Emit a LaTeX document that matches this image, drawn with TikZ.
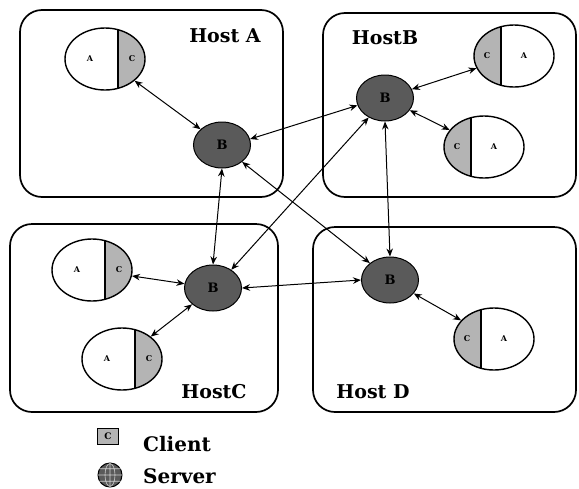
\documentclass[tikz,border=0pt]{standalone}
\usepackage{fontspec}
\newfontfamily\hostfont{DejaVu Serif}
\usetikzlibrary{shapes.geometric,arrows.meta}
\definecolor{srvgray}{HTML}{5A5A5A}
\definecolor{cgray}{HTML}{B4B4B4}
\tikzset{
  hostbox/.style={draw,line width=1.7pt,rounded corners=22pt},
  hostlabel/.style={font=\hostfont\bfseries\fontsize{19}{19}\selectfont,inner sep=0pt},
  legendlabel/.style={font=\hostfont\bfseries\fontsize{20}{20}\selectfont,inner sep=0pt,anchor=west},
  server/.style={ellipse,draw,line width=1pt,fill=srvgray,minimum width=57pt,minimum height=46pt,inner sep=0pt,font=\hostfont\bfseries\fontsize{13}{13}\selectfont},
  clientshape/.style={ellipse,draw,line width=1.4pt,minimum width=80pt,minimum height=62pt,inner sep=0pt},
  clabel/.style={font=\hostfont\bfseries\fontsize{8}{8}\selectfont,inner sep=0pt},
  link/.style={line width=1pt,{Stealth[length=8pt,width=6.5pt]}-{Stealth[length=8pt,width=6.5pt]}}
}
% client with C part on the right
\newcommand\clientCR[3]{%
  \begin{scope}
    \clip (#2,#3) ellipse [x radius=40, y radius=31];
    \fill[cgray] (#2+13,#3-32) rectangle (#2+41,#3+32);
    \draw[line width=1.4pt] (#2+13,#3-32) -- (#2+13,#3+32);
  \end{scope}
  \node[clientshape] (#1) at (#2,#3) {};
  \node[clabel] (#1a) at (#2-15,#3) {A};
  \node[clabel] (#1c) at (#2+27,#3) {C};
}
% client with C part on the left
\newcommand\clientCL[3]{%
  \begin{scope}
    \clip (#2,#3) ellipse [x radius=40, y radius=31];
    \fill[cgray] (#2-41,#3-32) rectangle (#2-13,#3+32);
    \draw[line width=1.4pt] (#2-13,#3-32) -- (#2-13,#3+32);
  \end{scope}
  \node[clientshape] (#1) at (#2,#3) {};
  \node[clabel] (#1c) at (#2-27,#3) {C};
  \node[clabel] (#1a) at (#2+10,#3) {A};
}
\begin{document}
\begin{tikzpicture}[x=1pt,y=-1pt]
\useasboundingbox (0,0) rectangle (579,488);
% host boxes
\draw[hostbox] (20,10) rectangle (283,197);
\draw[hostbox] (323,13) rectangle (576,197);
\draw[hostbox] (10,224) rectangle (278,412);
\draw[hostbox] (313,227) rectangle (576,412);
\node[hostlabel] (la) at (225,36) {Host A};
\node[hostlabel] (lb) at (385,38) {HostB};
\node[hostlabel] (lc) at (214,392) {HostC};
\node[hostlabel] (ld) at (373,392) {Host D};
% servers
\node[server] (sa) at (222,145) {B};
\node[server] (sb) at (385,98) {B};
\node[server] (sc) at (213,288) {B};
\node[server] (sd) at (390,280) {B};
% clients
\clientCR{ca}{105}{59}
\clientCL{cb1}{514}{56}
\clientCL{cb2}{484}{147}
\clientCR{cc1}{92}{270}
\clientCR{cc2}{122}{359}
\clientCL{cd}{494}{339}
% links
\draw[link] (ca) -- (sa);
\draw[link] (sa.12) -- (sb.195);
\draw[link] (sa.south) -- (sc.north);
\draw[link] (sa.-40) -- (sd.140);
\draw[link] (sb.230) -- (sc.45);
\draw[link] (sb.south) -- (sd.north);
\draw[link] (sc.east) -- (sd.west);
\draw[link] (sb) -- (cb1);
\draw[link] (sb) -- (cb2);
\draw[link] (sc) -- (cc1);
\draw[link] (sc) -- (cc2);
\draw[link] (sd) -- (cd);
% legend
\node[draw,line width=1pt,fill=cgray,minimum width=21pt,minimum height=16pt,inner sep=0pt,font=\hostfont\bfseries\fontsize{9}{9}\selectfont] (legc) at (108,436) {C};
\node[legendlabel] (legct) at (143,444) {Client};
\node[circle,draw,line width=1pt,fill=srvgray,minimum size=24pt,inner sep=0pt] (legs) at (110,475) {};
\draw[gray!40,line width=0.6pt] (legs.west) -- (legs.east) (legs.north) -- (legs.south)
  (legs.center) ellipse [x radius=5, y radius=11.5]
  (legs.150) -- (legs.30) (legs.210) -- (legs.-30);
\node[legendlabel] (legst) at (143,476) {Server};
\end{tikzpicture}
\end{document}
